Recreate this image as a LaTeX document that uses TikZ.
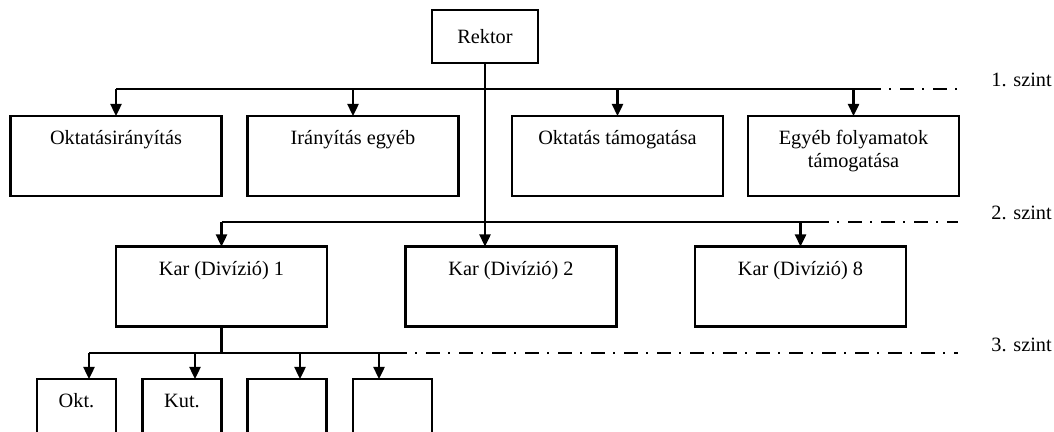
\documentclass[tikz,border=0pt]{standalone}
\usepackage{fontspec}
\setmainfont{Liberation Serif}
\usetikzlibrary{arrows.meta}

\begin{document}
\begin{tikzpicture}[
  x=0.5pt, y=-0.5pt,
  font=\fontsize{10.15}{11.5}\selectfont,
  frame/.style={draw, line width=1.2pt, inner sep=0pt, outer sep=0pt, align=center},
  topbox/.style={frame, minimum width=53pt, minimum height=26.5pt},
  unitbox/.style={frame, text height=14.5pt, text depth=25.5pt, minimum height=40pt},
  bigbox/.style={unitbox, minimum width=105.5pt},
  smallbox/.style={unitbox, minimum width=39.5pt},
  arr/.style={-{Triangle[length=6pt, width=5.5pt]}, line width=1.2pt},
  bus/.style={line width=1.2pt},
  szint/.style={line width=0.9pt, dash pattern=on 7pt off 4pt on 1pt off 4.5pt},
  lbl/.style={anchor=base west, inner sep=0pt}
]
  \useasboundingbox (0,0) rectangle (1054,432);

  % Rektor
  \node[topbox] (rektor) at (485,36.5) {Rektor};

  % 1. szint
  \node[bigbox] (okt) at (116,156) {Oktatásirányítás};
  \node[bigbox] (iranyitas) at (353,156) {Irányítás egyéb};
  \node[bigbox] (okttam) at (617.5,156) {Oktatás támogatása};
  \node[bigbox, text height=26pt, text depth=14pt] (egyeb) at (853.5,156)
    {Egyéb folyamatok\\támogatása};

  % 2. szint
  \node[bigbox] (kar1) at (221.5,286.5) {Kar (Divízió) 1};
  \node[bigbox] (kar2) at (511,286.5) {Kar (Divízió) 2};
  \node[bigbox] (kar8) at (800.5,286.5) {Kar (Divízió) 8};

  % 3. szint
  \node[smallbox] (okt3) at (76.5,419) {Okt.};
  \node[smallbox] (kut3) at (182,419) {Kut.};
  \node[smallbox] (ures1) at (287,419) {};
  \node[smallbox] (ures2) at (392.5,419) {};

  % szintvonalak
  \coordinate (e1) at (867,89);
  \coordinate (s1) at (958,89);
  \coordinate (e2) at (815,222);
  \coordinate (s2) at (958,222);
  \coordinate (t1) at (89,353);
  \coordinate (t2) at (195,353);
  \coordinate (t3) at (300,353);
  \coordinate (t4) at (379,353);
  \coordinate (e3) at (393,353);
  \coordinate (s3) at (958,353);

  \node[lbl] (l1) at (991,87) {1. szint};
  \node[lbl] (l2) at (991,220) {2. szint};
  \node[lbl] (l3) at (991,351) {3. szint};

  % kapcsolatok
  \draw[arr] (rektor.south) -- (rektor.south |- kar2.north);

  \draw[bus] (okt.north |- s1) -- (e1);
  \draw[szint] (e1) -- (s1);
  \foreach \n in {okt, iranyitas, okttam, egyeb}
    \draw[arr] (\n.north |- s1) -- (\n.north);

  \draw[bus] (kar1.north |- s2) -- (e2);
  \draw[szint] (e2) -- (s2);
  \foreach \n in {kar1, kar8}
    \draw[arr] (\n.north |- s2) -- (\n.north);

  \draw[bus] (kar1.south) -- (kar1.south |- s3);
  \draw[bus] (t1) -- (e3);
  \draw[szint] (e3) -- (s3);
  \foreach \t/\n in {t1/okt3, t2/kut3, t3/ures1, t4/ures2}
    \draw[arr] (\t) -- (\t |- \n.north);
\end{tikzpicture}
\end{document}
